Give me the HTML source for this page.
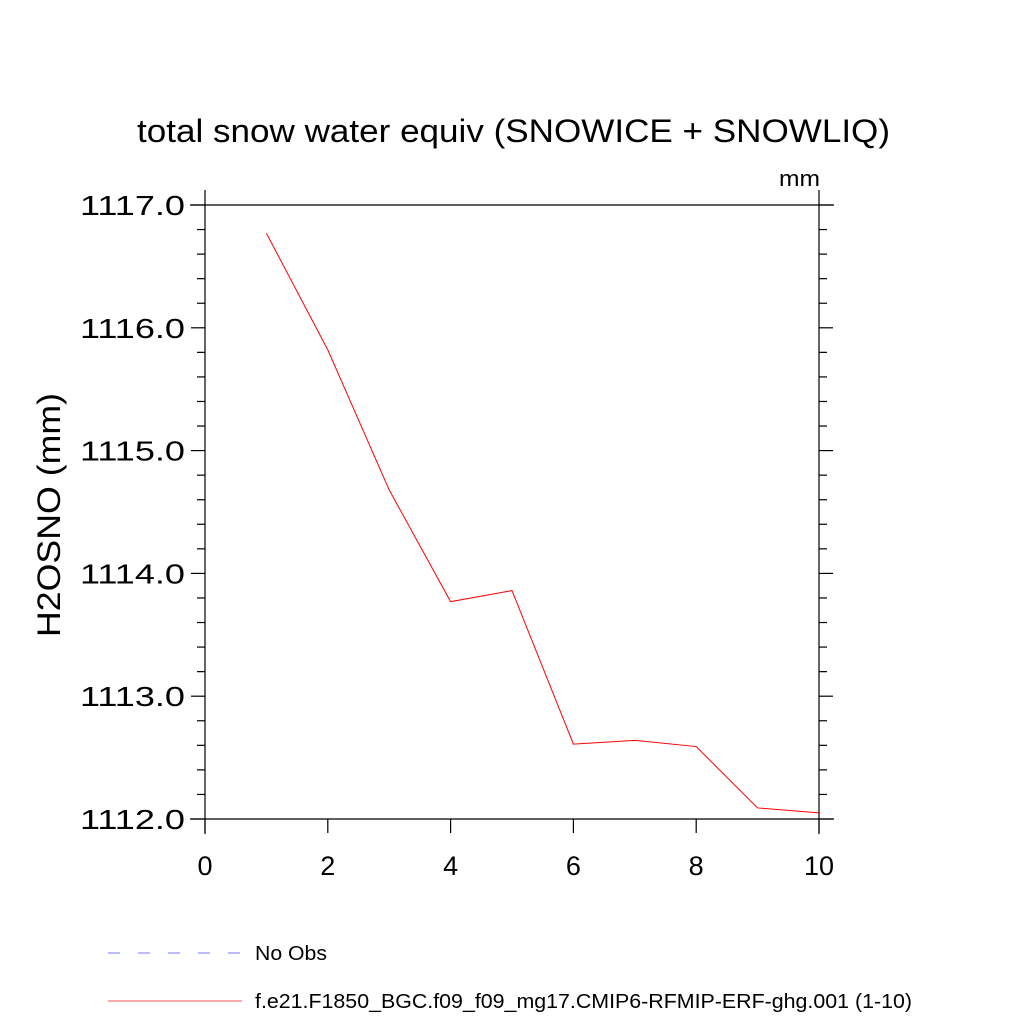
<!DOCTYPE html>
<html><head><meta charset="utf-8"><style>
body{margin:0;background:#fff}
svg text{font-family:"Liberation Sans",sans-serif;fill:#000}
</style></head><body>
<svg width="1024" height="1024" viewBox="0 0 1024 1024">
<text x="137" y="142" font-size="32" textLength="753" lengthAdjust="spacingAndGlyphs">total snow water equiv (SNOWICE + SNOWLIQ)</text>
<text x="779" y="186" font-size="22" textLength="41" lengthAdjust="spacingAndGlyphs">mm</text>
<text transform="translate(60,637) rotate(-90)" font-size="32" textLength="244" lengthAdjust="spacingAndGlyphs">H2OSNO  (mm)</text>
<g id="axes" stroke="#000" stroke-width="1.2"></g>
<g id="ticklabels"></g>
<polyline id="series" fill="none" stroke="#ff0000" stroke-width="1"/>
<g>
<line x1="108" y1="953" x2="242" y2="953" stroke="#7777ff" stroke-width="1" stroke-dasharray="12,18"/>
<text x="255" y="960" font-size="20" textLength="72" lengthAdjust="spacingAndGlyphs">No Obs</text>
<line x1="108" y1="1001" x2="242" y2="1001" stroke="#ff5555" stroke-width="1"/>
<text x="255" y="1008" font-size="20" textLength="657" lengthAdjust="spacingAndGlyphs">f.e21.F1850_BGC.f09_f09_mg17.CMIP6-RFMIP-ERF-ghg.001 (1-10)</text>
</g>
</svg>
<script>
const xVals=[1,2,3,4,5,6,7,8,9,10];
const yVals=[1116.77,1115.82,1114.68,1113.77,1113.86,1112.61,1112.64,1112.59,1112.09,1112.05];
const xTicks=[0,2,4,6,8,10];
const yTicks=[1112,1113,1114,1115,1116,1117];
const L=205,R=819,T=205,B=819,xmin=0,xmax=10,ymin=1112,ymax=1117;
const sx=v=>L+(v-xmin)/(xmax-xmin)*(R-L);
const sy=v=>B-(v-ymin)/(ymax-ymin)*(B-T);
const NS='http://www.w3.org/2000/svg';
const ax=document.getElementById('axes'),tl=document.getElementById('ticklabels');
function ln(x1,y1,x2,y2,name){const e=document.createElementNS(NS,'line');e.setAttribute('x1',x1);e.setAttribute('y1',y1);e.setAttribute('x2',x2);e.setAttribute('y2',y2);


ax.appendChild(e);}
ln(L,190,L,834,'y-axis-left');ln(R,190,R,834,'y-axis-right');
ln(190,T,834,T,'x-axis-top');ln(190,B,834,B,'x-axis-bottom');
xTicks.forEach(v=>{const x=sx(v);ln(x,B,x,833,'x-tick');
const t=document.createElementNS(NS,'text');t.setAttribute('x',x);t.setAttribute('y',875);t.setAttribute('font-size','27');t.setAttribute('text-anchor','middle');t.textContent=v;


tl.appendChild(t);});
for(let v=ymin;v<=ymax+1e-9;v+=0.2){const y=sy(v);const major=Math.abs(v-Math.round(v))<1e-6;const len=major?14:8;ln(L-len,y,L,y,'y-tick');ln(R,y,R+len,y,'y-tick-right');}
yTicks.forEach(v=>{const t=document.createElementNS(NS,'text');t.setAttribute('x',80);t.setAttribute('y',sy(v)+10);t.setAttribute('font-size','28');t.setAttribute('textLength','105');t.setAttribute('lengthAdjust','spacingAndGlyphs');t.textContent=v.toFixed(1);


tl.appendChild(t);});
document.getElementById('series').setAttribute('points',xVals.map((x,i)=>sx(x)+','+sy(yVals[i])).join(' '));
</script>
</body></html>
